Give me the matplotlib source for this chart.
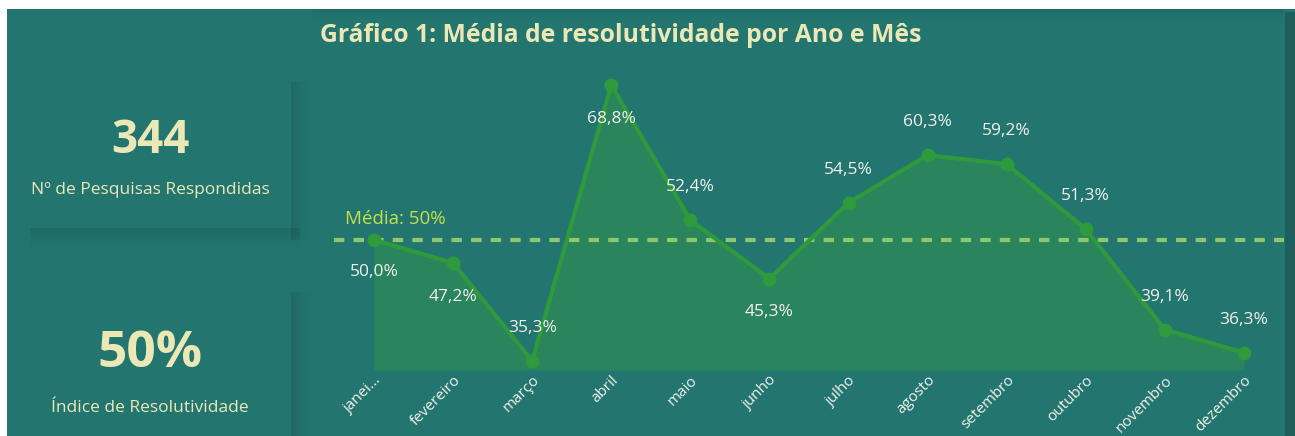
import numpy as np
import matplotlib.pyplot as plt
from matplotlib.patches import Rectangle

# ============================================================
# DATA
# ============================================================
meses = ["janei...", "fevereiro", "março", "abril", "maio", "junho",
         "julho", "agosto", "setembro", "outubro", "novembro", "dezembro"]
resolutividade = [50.0, 47.2, 35.3, 68.8, 52.4, 45.3,
                  54.5, 60.3, 59.2, 51.3, 39.1, 36.3]
media = 50
n_pesquisas = 344
indice = "50%"

# ============================================================
# STYLE
# ============================================================
W, H = 1295, 436
BG = "#237570"
CREAM = "#ece8b6"
LINE = "#2f9a3c"
FILL = "#2a845c"
MEAN = "#8fc86a"
MEAN_TXT = "#c4e04c"
LABEL = "#f2f2ea"
FONT = ["Open Sans", "DejaVu Sans"]
plt.rcParams["font.family"] = FONT

fig = plt.figure(figsize=(W / 100, H / 100), dpi=100, facecolor="white")

# background layer in pixel coordinates
bg = fig.add_axes([0, 0, 1, 1], zorder=0)
bg.set_xlim(0, W)
bg.set_ylim(H, 0)
bg.axis("off")
bg.add_patch(Rectangle((7, 9), W - 7, H - 9, color=BG, lw=0))


def shadow(x0, y0, x1, y1, horizontal, steps=14, amax=0.22):
    # soft shadow strip drawn as stacked translucent slices
    for i in range(steps):
        a = amax * (1 - i / steps) ** 1.5
        if horizontal:
            w = (x1 - x0) / steps
            bg.add_patch(Rectangle((x0 + i * w, y0), w, y1 - y0, color="#10403c", alpha=a, lw=0))
        else:
            h = (y1 - y0) / steps
            bg.add_patch(Rectangle((x0, y0 + i * h), x1 - x0, h, color="#10403c", alpha=a, lw=0))


# card shadows
shadow(291, 82, 308, 240, True)
shadow(30, 228, 300, 250, False)
shadow(291, 292, 312, H, True)
# chart panel shadows
shadow(312, 9, W - 12, 20, False, amax=0.18)
bg.add_patch(Rectangle((W - 10, 12), 10, H - 12, color="#1f5f5a", lw=0))

# KPI cards
bg.text(150, 140, str(n_pesquisas), color=CREAM, fontsize=33, fontweight="bold",
        ha="center", va="center")
bg.text(150, 190, "Nº de Pesquisas Respondidas", color=CREAM, fontsize=12.5,
        ha="center", va="center")
bg.text(150, 354, indice, color=CREAM, fontsize=37, fontweight="bold",
        ha="center", va="center")
bg.text(150, 408, "Índice de Resolutividade", color=CREAM, fontsize=12.5,
        ha="center", va="center")

# chart title
bg.text(320, 36, "Gráfico 1: Média de resolutividade por Ano e Mês", color=CREAM,
        fontsize=17.8, fontweight="bold", ha="left", va="center")

# ============================================================
# CHART
# ============================================================
px_unit = 79.09
left_px = 374 - 0.5 * px_unit
ymin, ymax = 34.2, 71.0
bottom_px = 370
top_px = 67
ax = fig.add_axes([left_px / W, (H - bottom_px) / H, 12 * px_unit / W,
                   (bottom_px - top_px) / H], zorder=2)
ax.patch.set_alpha(0)
x = np.arange(len(meses))

ax.fill_between(x, ymin, resolutividade, color=FILL, lw=0, zorder=1)
ax.axhline(media, color=MEAN, lw=3, ls=(0, (2.5, 2.2)), zorder=2)
ax.plot(x, resolutividade, color=LINE, lw=3, marker="o", markersize=9, zorder=3)
ax.text(-0.37, media + 1.4, f"Média: {media}%", color=MEAN_TXT, fontsize=13.5,
        ha="left", va="bottom")

# label placement: below (+) or above (-) the point, in pixels
offsets = [32, 34, -33, 34, -33, 33, -33, -33, -33, -33, -33, -33]
for xi, v, off in zip(x, resolutividade, offsets):
    ax.annotate(f"{v:.1f}%".replace(".", ","), (xi, v), xytext=(0, -off * 0.72),
                textcoords="offset points", ha="center", va="center",
                color=LABEL, fontsize=12.5, zorder=4)

ax.set_xlim(-0.5, 11.5)
ax.set_ylim(ymin, ymax)
ax.set_yticks([])
ax.set_xticks(x)
ax.set_xticklabels(meses, rotation=45, ha="right", rotation_mode="anchor",
                   color=LABEL, fontsize=11)
ax.tick_params(axis="x", length=0, pad=2)
for s in ax.spines.values():
    s.set_visible(False)

plt.savefig("out.png", dpi=100, facecolor=fig.get_facecolor())
